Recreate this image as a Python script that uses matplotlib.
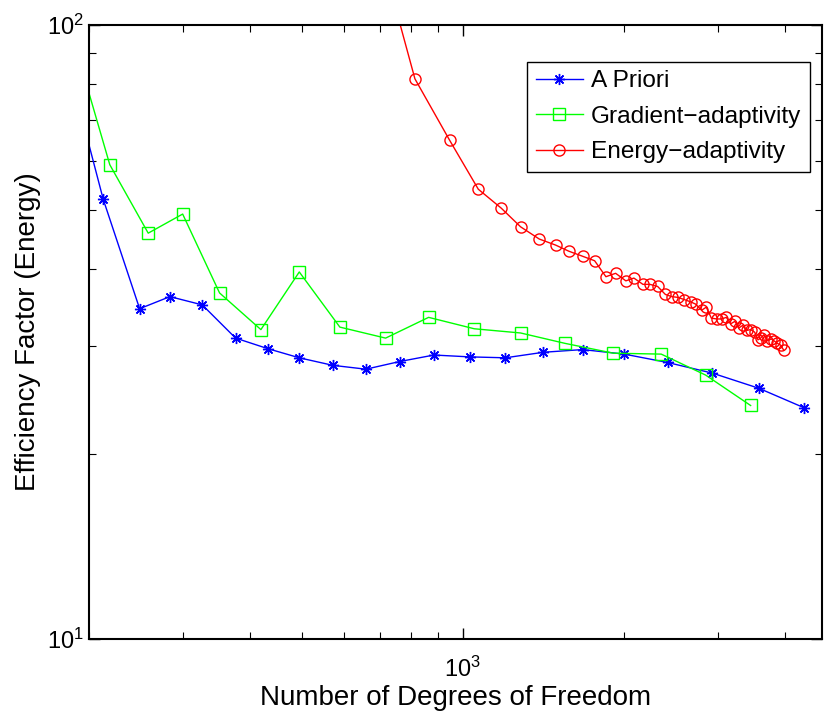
import matplotlib
matplotlib.use("Agg")
import matplotlib.pyplot as plt
from matplotlib.ticker import LogLocator, NullFormatter

plt.rcParams['font.family'] = ['Liberation Sans', 'DejaVu Sans']
plt.rcParams['mathtext.fontset'] = 'custom'
plt.rcParams['mathtext.rm'] = 'Liberation Sans'
plt.rcParams['axes.unicode_minus'] = True

# 数据
dof_priori = [190, 213.0, 249.1, 283.8, 326.2, 376.5, 432.6, 495.2, 572.2, 659.6,
              762.4, 884.1, 1030.6, 1201.9, 1415.4, 1676, 2005, 2416, 2929, 3579, 4346]
eff_priori = [76.1, 52.0, 34.5, 36.1, 35.0, 30.9, 29.7, 28.7, 27.9, 27.5,
              28.3, 29.0, 28.8, 28.7, 29.3, 29.6, 29.1, 28.2, 27.1, 25.6, 23.8]

dof_grad = [190, 219.1, 258.5, 299.8, 351.4, 419.8, 495.2, 589.7, 718, 864,
            1051.7, 1283.6, 1553, 1913, 2351, 2846, 3454]
eff_grad = [90.8, 59.2, 45.8, 49.2, 36.6, 31.9, 39.6, 32.2, 30.9, 33.4,
            32.0, 31.5, 30.3, 29.2, 29.1, 26.9, 24.0]

dof_energy = [730, 814.5, 945.6, 1070, 1181, 1283.6, 1391, 1492, 1580, 1676,
              1765, 1853, 1932, 2019, 2090, 2173, 2239, 2315, 2393, 2459,
              2526, 2597, 2668, 2726, 2797, 2854, 2917, 2984, 3049, 3111,
              3169, 3228, 3284, 3337, 3395, 3454, 3514, 3565, 3606, 3658,
              3711, 3776, 3818, 3874, 3930, 3986]
eff_energy = [116, 81.7, 64.9, 54.0, 50.3, 46.9, 44.8, 43.8, 42.8, 42.0,
              41.3, 38.9, 39.4, 38.3, 38.7, 37.8, 37.8, 37.5, 36.4, 36.1,
              36.0, 35.7, 35.4, 35.1, 34.3, 34.7, 33.3, 33.2, 33.2, 33.4,
              32.6, 32.9, 32.1, 32.4, 31.8, 31.9, 31.6, 30.7, 30.9, 31.3,
              30.6, 30.8, 30.6, 30.3, 30.1, 29.5]

labels = ['A Priori', 'Gradient\u2212adaptivity', 'Energy\u2212adaptivity']

fig = plt.figure(figsize=(8.28, 7.22), dpi=100)
ax = fig.add_axes([0.107, 0.115, 0.886, 0.8505])

# MATLAB 风格的星号标记
ax.plot(dof_priori, eff_priori, color='#0000ff', marker=(8, 2, 0), markersize=8,
        markeredgewidth=1, linewidth=1, label=labels[0])
ax.plot(dof_grad, eff_grad, color='#00ff00', marker='s', markersize=8,
        markerfacecolor='none', linewidth=1, label=labels[1])
ax.plot(dof_energy, eff_energy, color='#ff0000', marker='o', markersize=8,
        markerfacecolor='none', linewidth=1, label=labels[2])

ax.set_xscale('log')
ax.set_yscale('log')
ax.set_xlim(200, 4700)
ax.set_ylim(10, 100)

ax.xaxis.set_major_locator(LogLocator(base=10, numticks=10))
ax.xaxis.set_minor_locator(LogLocator(base=10, subs=range(2, 10), numticks=10))
ax.xaxis.set_minor_formatter(NullFormatter())
ax.yaxis.set_minor_formatter(NullFormatter())

ax.tick_params(which='both', direction='in', top=True, right=True, labelsize=17)
ax.tick_params(which='major', length=8, width=1)
ax.tick_params(which='minor', length=5, width=0.8)
ax.tick_params(axis='x', pad=13)
for s in ax.spines.values():
    s.set_linewidth(1.5)

ax.set_xlabel('Number of Degrees of Freedom', fontsize=20, labelpad=2)
ax.set_ylabel('Efficiency Factor (Energy)', fontsize=20, labelpad=4)

leg = ax.legend(loc='upper right', bbox_to_anchor=(0.9827, 0.9402), borderaxespad=0,
                fontsize=17.6, fancybox=False, edgecolor='black', framealpha=1,
                numpoints=1, handlelength=1.95, handletextpad=0.3,
                labelspacing=0.55, borderpad=0.35)
leg.get_frame().set_linewidth(1)

fig.savefig('out.png', dpi=100)
